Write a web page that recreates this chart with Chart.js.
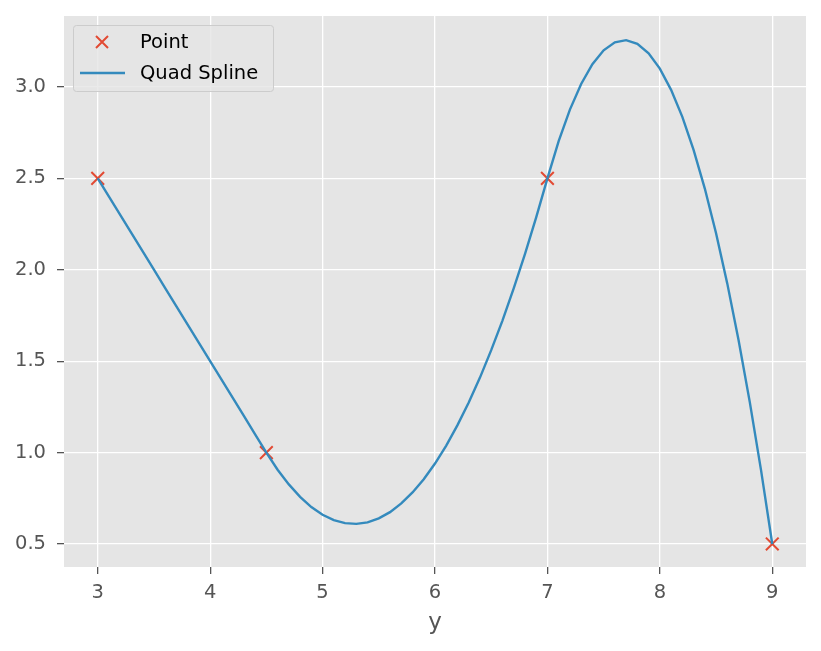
<!DOCTYPE html>
<html>
<head>
<meta charset="utf-8">
<script src="https://cdn.jsdelivr.net/npm/chart.js@4/dist/chart.umd.min.js"></script>
<style>
  html, body { margin: 0; padding: 0; background: #fff; }
  #wrap { width: 821px; height: 651px; position: relative; }
</style>
</head>
<body>
<div id="wrap"><canvas id="c" width="821" height="651"></canvas></div>
<script>
// ---- data ----
const pointX = [3, 4.5, 7, 9];
const pointY = [2.5, 1.0, 2.5, 0.5];

const splineX = [
  3.0, 3.1, 3.2, 3.3, 3.4, 3.5, 3.6, 3.7, 3.8, 3.9,
  4.0, 4.1, 4.2, 4.3, 4.4, 4.5, 4.6, 4.7, 4.8, 4.9,
  5.0, 5.1, 5.2, 5.3, 5.4, 5.5, 5.6, 5.7, 5.8, 5.9,
  6.0, 6.1, 6.2, 6.3, 6.4, 6.5, 6.6, 6.7, 6.8, 6.9,
  7.0, 7.1, 7.2, 7.3, 7.4, 7.5, 7.6, 7.7, 7.8, 7.9,
  8.0, 8.1, 8.2, 8.3, 8.4, 8.5, 8.6, 8.7, 8.8, 8.9, 9.0
];
const splineY = [
  2.5, 2.4, 2.3, 2.2, 2.1, 2.0, 1.9, 1.8, 1.7, 1.6,
  1.5, 1.4, 1.3, 1.2, 1.1, 1.0, 0.906, 0.826, 0.758, 0.702,
  0.66, 0.630, 0.614, 0.610, 0.618, 0.64, 0.674, 0.722, 0.782, 0.854,
  0.94, 1.038, 1.150, 1.274, 1.410, 1.56, 1.722, 1.898, 2.086, 2.286,
  2.5, 2.704, 2.876, 3.016, 3.124, 3.2, 3.244, 3.256, 3.236, 3.184,
  3.1, 2.984, 2.836, 2.656, 2.444, 2.2, 1.924, 1.616, 1.276, 0.904, 0.5
];

const xTicks = [3, 4, 5, 6, 7, 8, 9];
const yTicks = [0.5, 1.0, 1.5, 2.0, 2.5, 3.0];
const xLabel = 'y';

// ---- styles ----
const RED = '#E24A33';
const BLUE = '#348ABD';
const PANEL = '#E5E5E5';
const TEXT = '#555555';
const FONT = "'DejaVu Sans', sans-serif";
const TICK_SIZE = 19.5;

const toPts = (xs, ys) => xs.map((x, i) => ({ x, y: ys[i] }));

// grey panel behind the plot
const panelBg = {
  id: 'panelBg',
  beforeDraw(chart) {
    const { ctx, chartArea: a } = chart;
    ctx.save();
    ctx.fillStyle = PANEL;
    ctx.fillRect(a.left, a.top, a.right - a.left, a.bottom - a.top);
    ctx.restore();
  }
};

// matplotlib-like legend box in the upper left
const mplLegend = {
  id: 'mplLegend',
  afterDraw(chart) {
    const { ctx, chartArea: a } = chart;
    const x0 = a.left + 9, y0 = a.top + 9, w = 200, h = 66;
    ctx.save();
    ctx.beginPath();
    ctx.roundRect(x0 + 0.5, y0 + 0.5, w, h, 3);
    ctx.fillStyle = 'rgba(229,229,229,0.8)';
    ctx.fill();
    ctx.strokeStyle = '#CCCCCC';
    ctx.lineWidth = 1;
    ctx.stroke();

    // cross marker
    const mx = x0 + 29, my = y0 + 17;
    ctx.strokeStyle = RED;
    ctx.lineWidth = 2;
    ctx.beginPath();
    ctx.moveTo(mx - 6, my - 6); ctx.lineTo(mx + 6, my + 6);
    ctx.moveTo(mx + 6, my - 6); ctx.lineTo(mx - 6, my + 6);
    ctx.stroke();

    // line sample
    const ly = y0 + 48;
    ctx.strokeStyle = BLUE;
    ctx.lineWidth = 2.4;
    ctx.beginPath();
    ctx.moveTo(x0 + 7, ly); ctx.lineTo(x0 + 52, ly);
    ctx.stroke();

    ctx.fillStyle = '#000';
    ctx.font = TICK_SIZE + 'px ' + FONT;
    ctx.textBaseline = 'middle';
    ctx.fillText(chart.data.datasets[0].label, x0 + 67, my + 1);
    ctx.fillText(chart.data.datasets[1].label, x0 + 67, ly + 1);
    ctx.restore();
  }
};

new Chart(document.getElementById('c'), {
  type: 'scatter',
  data: {
    datasets: [
      {
        label: 'Point',
        data: toPts(pointX, pointY),
        showLine: false,
        pointStyle: 'crossRot',
        pointRadius: 9,
        pointBorderWidth: 2,
        borderColor: RED,
        backgroundColor: RED,
        order: 1,
      },
      {
        label: 'Quad Spline',
        data: toPts(splineX, splineY),
        showLine: true,
        borderColor: BLUE,
        borderWidth: 2.4,
        pointRadius: 0,
        tension: 0,
        fill: false,
        order: 0,
      },
    ],
  },
  options: {
    responsive: false,
    animation: false,
    layout: { padding: { left: 0, right: 15, top: 16, bottom: 0 } },
    plugins: { legend: { display: false }, tooltip: { enabled: false } },
    scales: {
      x: {
        type: 'linear', min: 2.7, max: 9.3,
        afterBuildTicks: s => { s.ticks = xTicks.map(v => ({ value: v })); },
        afterFit: s => { s.height = 84; s.paddingLeft = 0; s.paddingRight = 0; },
        grid: { color: '#FFFFFF', lineWidth: 1.3, tickColor: TEXT, tickLength: 7, drawTicks: true },
        border: { display: false },
        ticks: { color: TEXT, font: { family: FONT, size: TICK_SIZE }, padding: 7, maxRotation: 0 },
        title: { display: true, text: xLabel, color: TEXT, font: { family: FONT, size: 23 }, padding: { top: 2, bottom: 14 } },
      },
      y: {
        type: 'linear', min: 0.374, max: 3.388,
        afterBuildTicks: s => { s.ticks = yTicks.map(v => ({ value: v })); },
        afterFit: s => { s.width = 64; s.paddingTop = 0; s.paddingBottom = 0; },
        grid: { color: '#FFFFFF', lineWidth: 1.3, tickColor: TEXT, tickLength: 7, drawTicks: true },
        border: { display: false },
        ticks: { color: TEXT, font: { family: FONT, size: TICK_SIZE }, padding: 11, callback: v => v.toFixed(1) },
      },
    },
  },
  plugins: [panelBg, mplLegend],
});
</script>
</body>
</html>
